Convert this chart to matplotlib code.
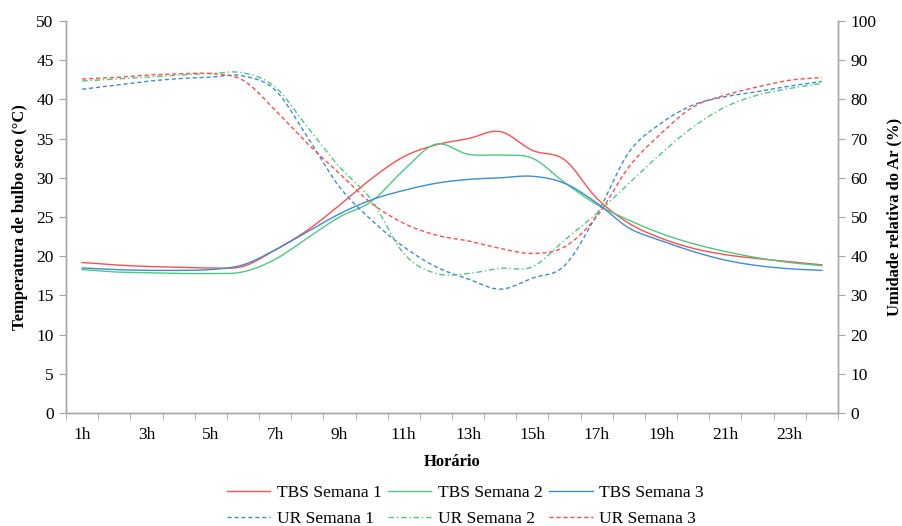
import numpy as np
import matplotlib
matplotlib.use("Agg")
import matplotlib.pyplot as plt

# horas 1..24
horas = list(range(1, 25))
rotulos = [f"{h}h" if h % 2 == 1 else "" for h in horas]

# temperatura de bulbo seco (°C)
tbs1 = [19.2, 18.9, 18.7, 18.6, 18.5, 18.7, 20.8, 23.3, 26.5, 29.9, 32.7, 34.2,
        35.0, 35.9, 33.5, 32.3, 27.4, 24.2, 22.3, 21.0, 20.2, 19.7, 19.3, 18.9]
tbs2 = [18.3, 18.0, 17.9, 17.8, 17.8, 18.0, 19.6, 22.3, 25.0, 27.0, 31.0, 34.3,
        33.0, 32.9, 32.5, 29.4, 26.6, 24.6, 22.9, 21.6, 20.6, 19.8, 19.2, 18.8]
tbs3 = [18.5, 18.3, 18.2, 18.2, 18.3, 18.9, 20.8, 23.1, 25.4, 27.2, 28.4, 29.3,
        29.8, 30.0, 30.2, 29.3, 26.8, 23.6, 22.0, 20.6, 19.5, 18.8, 18.4, 18.2]

# umidade relativa do ar (%)
ur1 = [82.6, 83.6, 84.6, 85.3, 85.7, 86.0, 82.4, 70.5, 57.7, 49.2, 42.4, 37.3,
       34.2, 31.6, 34.4, 37.6, 50.6, 66.5, 73.9, 78.6, 80.7, 82.0, 83.4, 84.6]
ur2 = [84.7, 85.2, 85.7, 86.2, 86.6, 86.8, 83.2, 73.0, 62.8, 54.3, 40.7, 35.6,
       35.6, 36.9, 37.3, 44.1, 50.9, 58.6, 66.2, 73.0, 78.1, 81.1, 82.8, 84.1]
ur3 = [85.2, 85.6, 86.2, 86.5, 86.6, 84.9, 77.3, 68.8, 61.1, 53.5, 48.4, 45.4,
       43.9, 42.0, 40.7, 42.4, 50.1, 62.8, 71.3, 78.1, 81.1, 83.2, 84.9, 85.6]

vermelho = '#FF4D4D'
verde = '#4DC97F'
azul = '#3C8DD4'


def suave(x, y, n=12):
    # linha suavizada (tipo Excel), Catmull-Rom
    x = np.asarray(x, float)
    y = np.asarray(y, float)
    px = np.concatenate([[2 * x[0] - x[1]], x, [2 * x[-1] - x[-2]]])
    py = np.concatenate([[2 * y[0] - y[1]], y, [2 * y[-1] - y[-2]]])
    xs, ys = [], []
    t = np.linspace(0, 1, n, endpoint=False)
    for i in range(1, len(px) - 2):
        for p, out in ((px, xs), (py, ys)):
            p0, p1, p2, p3 = p[i - 1], p[i], p[i + 1], p[i + 2]
            out.extend(0.5 * ((2 * p1) + (-p0 + p2) * t
                              + (2 * p0 - 5 * p1 + 4 * p2 - p3) * t ** 2
                              + (-p0 + 3 * p1 - 3 * p2 + p3) * t ** 3))
    xs.append(x[-1])
    ys.append(y[-1])
    return xs, ys


plt.rcParams['font.family'] = ['Liberation Serif', 'DejaVu Serif']
plt.rcParams['font.size'] = 12.5

fig = plt.figure(figsize=(9.02, 5.26), dpi=100)
ax = fig.add_axes([0.0732, 0.2148, 0.8558, 0.7452])
ax2 = ax.twinx()

lw = 1.0
l1, = ax.plot(*suave(horas, tbs1), color=vermelho, lw=lw, label='TBS Semana 1')
l2, = ax.plot(*suave(horas, tbs2), color=verde, lw=lw, label='TBS Semana 2')
l3, = ax.plot(*suave(horas, tbs3), color=azul, lw=lw, label='TBS Semana 3')
l4, = ax2.plot(*suave(horas, ur1), color=azul, lw=lw, ls=(0, (3, 2)), label='UR Semana 1')
l5, = ax2.plot(*suave(horas, ur2), color=verde, lw=lw, ls=(0, (4, 2, 1, 2)), label='UR Semana 2')
l6, = ax2.plot(*suave(horas, ur3), color=vermelho, lw=lw, ls=(0, (3, 2)), label='UR Semana 3')

ax.set_xlim(0.5, 24.5)
ax.set_ylim(0, 50)
ax2.set_ylim(0, 100)
ax.set_yticks(range(0, 51, 5))
ax2.set_yticks(range(0, 101, 10))

ax.set_xticks(horas)
ax.set_xticklabels(rotulos)
ax.set_xticks(np.arange(0.5, 25, 1), minor=True)
ax.tick_params(axis='x', which='major', length=0, pad=10)
ax.tick_params(axis='x', which='minor', length=5, color='#A6A6A6', direction='out')
ax.tick_params(axis='y', length=5, color='#A6A6A6', pad=4)
ax2.tick_params(axis='y', length=5, color='#A6A6A6', pad=4)

for a in (ax, ax2):
    a.spines['top'].set_visible(False)
    for s in ('left', 'right', 'bottom'):
        a.spines[s].set_color('#A6A6A6')
        a.spines[s].set_linewidth(1.0)

ax.set_xlabel('Horário', fontweight='bold', fontsize=12, labelpad=8)
ax.set_ylabel('Temperatura de bulbo seco (°C)', fontweight='bold', fontsize=12, labelpad=6)
ax2.set_ylabel('Umidade relativa do Ar (%)', fontweight='bold', fontsize=12, labelpad=7)

fig.legend([l1, l4, l2, l5, l3, l6],
           [h.get_label() for h in (l1, l4, l2, l5, l3, l6)],
           ncol=3, loc='lower center', bbox_to_anchor=(0.516, -0.032),
           frameon=False, handlelength=2.5, handletextpad=0.4,
           columnspacing=0.35, labelspacing=0.6)

fig.savefig('out.png', dpi=100)
